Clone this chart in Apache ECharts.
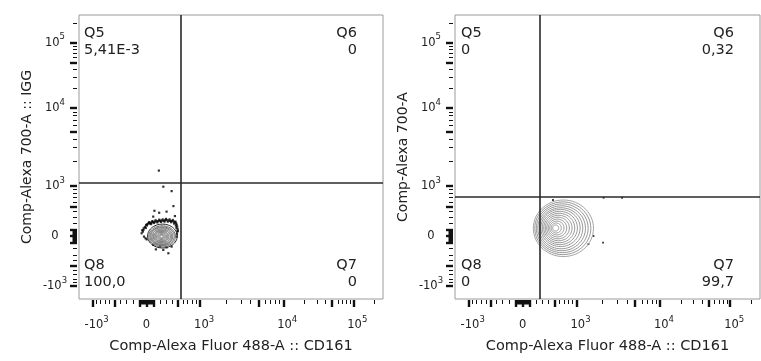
<!DOCTYPE html>
<html><head><meta charset="utf-8">
<script src="https://cdn.jsdelivr.net/npm/echarts@6/dist/echarts.min.js"></script>
<style>html,body{margin:0;padding:0;background:#fff}#c{width:761px;height:361px}</style>
</head><body><div id="c"></div>
<script>
// ---- data (display channels 0..1024 on a biexponential scale) ----
const channelMax = 1024;
const xTitle = 'Comp-Alexa Fluor 488-A :: CD161';
const yTitles = ['Comp-Alexa 700-A :: IGG', 'Comp-Alexa 700-A'];
const quadNames = ['Q5', 'Q6', 'Q7', 'Q8'];
const quadValuesLeft = ['5,41E-3', '0', '0', '100,0'];
const quadValuesRight = ['0', '0,32', '99,7', '0'];
const gatesX = [344, 283];
const gatesY = [418, 368];

const labelTicks = [46, 227, 408, 688, 924];
const labelBase = ['-10', '0', '10', '10', '10'];
const labelExp = ['3', '', '3', '4', '5'];
const majorTicks = [46, 120, 203.7, 227, 250.3, 334, 408, 604, 688, 853, 924];
const zeroBlockTicks = [206, 208.3, 210.7, 213, 215.3, 217.7, 220, 222.3, 224.7, 229.3, 231.7, 234, 236.3, 238.7, 241, 243.3, 245.7, 248];
const minorTicks = [59.5, 73, 87.8, 103.4, 139.4, 159.5, 181.2, 272.8, 294.5, 314.6, 350.6, 366.2, 381, 394.5,
  496, 546, 577, 627, 645, 661, 675, 759, 801, 830, 872, 887, 901, 913, 995];

// contour levels: [centerX, centerY, radiusX, radiusY]
const contoursLeft = [
  [281, 227, 50, 43], [280, 226, 45, 38], [280, 226, 41, 34], [279, 226, 37, 31],
  [279, 225, 33, 28], [279, 225, 29, 24], [278, 225, 25, 21], [278, 225, 21, 18],
  [278, 225, 17, 15], [278, 225, 13, 11], [278, 225, 9, 8], [278, 225, 5, 5]
];
const contoursRight = [
  [364, 255, 101, 102], [362, 255, 94, 95], [360, 255, 87, 88], [358, 255, 80, 81],
  [356, 255, 73, 74], [354, 256, 66, 67], [352, 256, 59, 60], [350, 256, 52, 53],
  [348, 256, 45, 46], [346, 256, 38, 39], [344, 256, 31, 32], [342, 256, 24, 25],
  [340, 256, 17, 18], [338, 256, 10, 11]
];
// outlier events
const eventsLeft = [
  [269, 463], [284, 405], [312, 389], [318, 335], [254, 318], [270, 311], [295, 315], [323, 299], [250, 297],
  [226, 267], [234, 273], [241, 275], [250, 278], [262, 280], [273, 282], [284, 282], [295, 285], [307, 282],
  [318, 280], [327, 273], [331, 261], [331, 243], [329, 225], [217, 249], [211, 237], [219, 225], [228, 215],
  [250, 195], [273, 189], [295, 186], [312, 189], [301, 165], [259, 179], [284, 177],
  [222, 260], [230, 270], [238, 272], [245, 276], [256, 279], [267, 281], [278, 283], [290, 284], [301, 283],
  [312, 281], [322, 277], [329, 268], [332, 252], [215, 243], [224, 219], [330, 235],
  [236, 277], [247, 281], [258, 284], [270, 286], [282, 287], [293, 289], [305, 287], [316, 285], [325, 279],
  [229, 265], [243, 270], [253, 274], [264, 276], [276, 278], [288, 279], [299, 279], [310, 277], [320, 272],
  [326, 265], [225, 256], [218, 255], [213, 248], [333, 246], [328, 257]
];
const eventsRight = [[497, 203], [465, 227], [329, 357], [499, 365], [561, 365], [448, 198]];

// ---- chart ----
const FONT = 'DejaVu Sans';
const grids = [
  { left: 79, top: 15, width: 304, height: 284 },
  { left: 455, top: 15, width: 305, height: 284 }
];

function labelFmt(withSpacer) {
  return function (v) {
    let i = 0, best = 1e9;
    labelTicks.forEach((t, k) => { const d = Math.abs(t - v); if (d < best) { best = d; i = k; } });
    if (!labelExp[i]) return '{b|' + labelBase[i] + '}';
    return (withSpacer ? '{sp|}' : '') + '{b|' + labelBase[i] + '}{s|' + labelExp[i] + '}';
  };
}
const rich = {
  b: { fontFamily: FONT, fontSize: 11.5, color: '#222', lineHeight: 20 },
  s: { fontFamily: FONT, fontSize: 8.5, color: '#222', verticalAlign: 'top', lineHeight: 11 },
  sp: { width: 8 }
};

const xAxes = [], yAxes = [];
grids.forEach((g, gi) => {
  const baseX = { type: 'value', gridIndex: gi, min: 0, max: channelMax, position: 'bottom', offset: 1,
    axisLine: { show: false, onZero: false }, splitLine: { show: false } };
  const baseY = { type: 'value', gridIndex: gi, min: 0, max: channelMax, position: 'left', offset: 2,
    axisLine: { show: false, onZero: false }, splitLine: { show: false } };
  xAxes.push(Object.assign({}, baseX, {
    name: xTitle, nameLocation: 'middle', nameGap: 39,
    nameTextStyle: { fontFamily: FONT, fontSize: 14.5, color: '#222' },
    axisTick: { show: true, customValues: majorTicks, length: 7, lineStyle: { color: '#111', width: 2.4 } },
    axisLabel: { show: true, customValues: labelTicks, formatter: labelFmt(true), margin: 15, rich: rich }
  }));
  xAxes.push(Object.assign({}, baseX, {
    axisTick: { show: true, customValues: minorTicks, length: 4, lineStyle: { color: '#111', width: 1 } },
    axisLabel: { show: false }
  }));
  xAxes.push(Object.assign({}, baseX, {
    axisTick: { show: true, customValues: zeroBlockTicks, length: 4.5, lineStyle: { color: '#111', width: 1.5 } },
    axisLabel: { show: false }
  }));
  yAxes.push(Object.assign({}, baseY, {
    name: yTitles[gi], nameLocation: 'middle', nameGap: 43,
    nameTextStyle: { fontFamily: FONT, fontSize: 14, color: '#222' },
    axisTick: { show: true, customValues: majorTicks, length: 7, lineStyle: { color: '#111', width: 2.4 } },
    axisLabel: { show: true, customValues: labelTicks, formatter: labelFmt(false), margin: 22, align: 'center', rich: rich }
  }));
  yAxes.push(Object.assign({}, baseY, {
    axisTick: { show: true, customValues: minorTicks, length: 4, lineStyle: { color: '#111', width: 1 } },
    axisLabel: { show: false }
  }));
  yAxes.push(Object.assign({}, baseY, {
    axisTick: { show: true, customValues: zeroBlockTicks, length: 4.5, lineStyle: { color: '#111', width: 1.5 } },
    axisLabel: { show: false }
  }));
});

function contourRender(outerColor, innerColor, lw) {
  return function (params, api) {
    const cx = api.value(0), cy = api.value(1), rx = api.value(2), ry = api.value(3);
    const pts = [];
    for (let k = 0; k <= 60; k++) {
      const t = k / 60 * Math.PI * 2;
      pts.push(api.coord([cx + rx * Math.cos(t), cy + ry * Math.sin(t)]));
    }
    return { type: 'polyline', shape: { points: pts },
      style: { stroke: params.dataIndex === 0 ? outerColor : innerColor, fill: 'none', lineWidth: lw } };
  };
}

const panels = [
  { contours: contoursLeft, events: eventsLeft, outer: '#222', inner: '#6a6a6a', dot: 2.2, lw: 1 },
  { contours: contoursRight, events: eventsRight, outer: '#999', inner: '#8a8a8a', dot: 1.8, lw: 0.9 }
];
const series = [];
panels.forEach((p, gi) => {
  series.push({
    type: 'custom', xAxisIndex: gi * 3, yAxisIndex: gi * 3, data: p.contours,
    renderItem: contourRender(p.outer, p.inner, p.lw), silent: true, z: 3
  });
  series.push({
    type: 'scatter', xAxisIndex: gi * 3, yAxisIndex: gi * 3, data: p.events,
    symbol: 'rect', symbolSize: p.dot, itemStyle: { color: '#000' }, silent: true, z: 2,
    markLine: { silent: true, symbol: 'none', label: { show: false },
      lineStyle: { color: '#2a2a2a', width: 1.6, type: 'solid' },
      data: [{ xAxis: gatesX[gi] }, { yAxis: gatesY[gi] }] }
  });
});

function qText(x, y, text, align) {
  return { type: 'text', x: x, y: y, z: 100,
    style: { text: text, font: '14.5px "' + FONT + '"', fill: '#222', align: align, verticalAlign: 'middle' } };
}
const graphics = [];
const qPos = [
  { l: 84, r: 357 },
  { l: 461, r: 734 }
];
[quadValuesLeft, quadValuesRight].forEach((vals, gi) => {
  const P = qPos[gi];
  graphics.push(qText(P.l, 33, quadNames[0], 'left'), qText(P.l, 50, vals[0], 'left'));
  graphics.push(qText(P.r, 33, quadNames[1], 'right'), qText(P.r, 50, vals[1], 'right'));
  graphics.push(qText(P.r, 265, quadNames[2], 'right'), qText(P.r, 282, vals[2], 'right'));
  graphics.push(qText(P.l, 265, quadNames[3], 'left'), qText(P.l, 282, vals[3], 'left'));
});

const chart = echarts.init(document.getElementById('c'), null, { renderer: 'canvas' });
chart.setOption({
  animation: false,
  backgroundColor: '#fff',
  grid: grids.map(g => Object.assign({ show: true, borderColor: '#9a9a9a', borderWidth: 1,
    backgroundColor: '#fff', containLabel: false, outerBoundsMode: 'none' }, g)),
  xAxis: xAxes,
  yAxis: yAxes,
  series: series,
  graphic: graphics
});
</script></body></html>
